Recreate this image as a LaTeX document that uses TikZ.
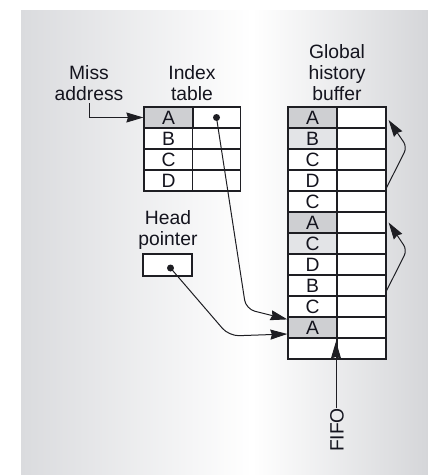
\documentclass[tikz,border=0pt]{standalone}
\usepackage{fontspec}
\setmainfont{Liberation Sans}
\usetikzlibrary{arrows.meta,calc}

\definecolor{bgL}{RGB}{218,219,222}
\definecolor{bgR}{RGB}{213,214,217}
\definecolor{cellA}{RGB}{206,207,210}
\definecolor{cellB}{RGB}{227,228,231}
\definecolor{ink}{RGB}{30,30,35}
\definecolor{txt}{RGB}{20,20,30}

\tikzset{
  cell/.style={draw=ink, line width=1.2pt, fill=white, inner sep=0pt,
    minimum height=21pt, text=txt,
    font=\fontsize{19.3pt}{21pt}\selectfont},
  keycell/.style={cell, minimum width=49pt},
  ptrcell/.style={cell, minimum width=48pt},
  label/.style={align=center, inner sep=0pt, text=txt,
    font=\fontsize{19.3pt}{21pt}\selectfont},
  arr/.style={draw=ink, line width=1pt,
    -{Stealth[length=17pt,width=10pt,inset=1.5pt]}},
  dot/.style={circle, fill=ink, inner sep=0pt, minimum size=7pt},
}

\begin{document}
\begin{tikzpicture}[x=1pt,y=-1pt]
  % page and shaded panel
  \useasboundingbox (0,0) rectangle (428,475);
  \fill[white] (0,0) rectangle (428,475);
  \shade[left color=bgL, right color=white] (21,10) rectangle (252,475);
  \shade[left color=white, right color=bgR] (252,10) rectangle (428,475);

  % index table
  \foreach \k [count=\i from 0] in {A,B,C,D} {
    \pgfmathsetmacro{\yy}{117.5+21*\i}
    \node[keycell] (i\i k) at (168.5,\yy) {\k};
    \node[ptrcell] (i\i p) at (216.5,\yy) {};
  }
  \node[keycell, fill=cellA] at (i0k) {A};

  % global history buffer
  \foreach \k/\f [count=\i from 0] in
      {A/cellA,B/cellB,C/white,D/white,C/white,A/cellA,
       C/cellB,D/white,B/white,C/white,A/cellA,/white} {
    \pgfmathsetmacro{\yy}{117.5+21*\i}
    \node[keycell, fill=\f] (g\i k) at (312.5,\yy) {\k};
    \node[ptrcell, minimum width=49pt] (g\i p) at (361.5,\yy) {};
  }

  % head pointer register
  \node[draw=ink, line width=1.2pt, fill=white, minimum width=49pt,
        minimum height=22pt, inner sep=0pt] (hp) at (167.5,265) {};

  % labels
  \node[label, anchor=base] (miss) at (89,100) {Miss\\address};
  \node[label, anchor=base] (itl) at (192,100) {Index\\table};
  \node[label, anchor=base] (ghb) at (337,100) {Global\\history\\buffer};
  \node[label, anchor=base] (hpl) at (168,245) {Head\\pointer};
  \node[label, rotate=90] (fifo) at (337,430) {FIFO};

  % pointer dots
  \node[dot] (d1) at (i0p) {};
  \node[dot] (d2) at ([xshift=3pt,yshift=-3pt]hp.center) {};

  % bend points of the links
  \coordinate (b1) at (407,147);
  \coordinate (b2) at (407,250);

  % connectors
  \draw[arr] ([yshift=-3pt]miss.south) |- (i0k.west);
  \draw[arr, rounded corners=9pt] (d1.center) -- (246,309)
        -- ([yshift=-3pt]g10k.north west);
  \draw[arr, rounded corners=10pt] (d2.center) -- (229,336)
        -- ([yshift=-6.5pt]g10k.west);
  \draw[arr, rounded corners=6pt] ([yshift=4pt]g3p.south east) -- (b1)
        -- ([xshift=2pt,yshift=-2.5pt]g0p.east);
  \draw[arr, rounded corners=6pt] ([yshift=6pt]g8p.south east) -- (b2)
        -- ([xshift=2pt]g5p.east);
  \draw[arr] ([xshift=-1pt]fifo.east) -- ([xshift=-1pt,yshift=-4pt]fifo.east |- g11k.north east);
\end{tikzpicture}
\end{document}
